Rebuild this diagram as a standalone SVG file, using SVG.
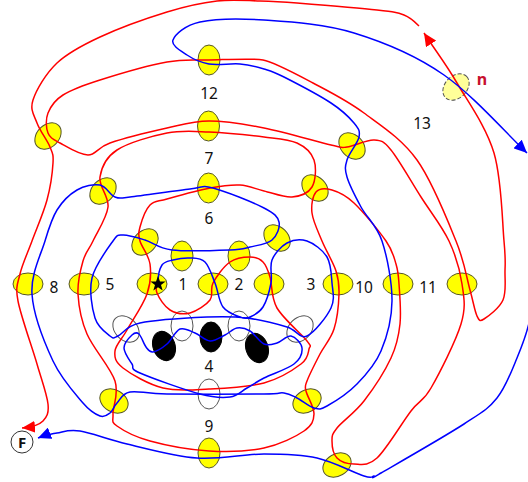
<svg xmlns="http://www.w3.org/2000/svg" width="528" height="482" viewBox="0 0 528 482">
<style>
.y{fill:#ffff00;stroke:#55552a;stroke-width:1}
.w{fill:#fff;stroke:#555;stroke-width:1}
.k{fill:#000;stroke:#000;stroke-width:1}
.p{fill:#ffff99;stroke:#555;stroke-width:1;stroke-dasharray:4 2}
.r{fill:none;stroke:#ff0000;stroke-width:1.5}
.b{fill:none;stroke:#0000ff;stroke-width:1.5}
text{font-family:"Noto Sans","Liberation Sans",sans-serif;font-size:15.500px;fill:#111;text-anchor:middle}
</style>
<defs>
<marker id="ar" markerUnits="userSpaceOnUse" markerWidth="14" markerHeight="12" refX="13" refY="6" orient="auto"><path d="M0 0L13 6L0 12Z" fill="#ff0000"/></marker>
<marker id="ab" markerUnits="userSpaceOnUse" markerWidth="14" markerHeight="12" refX="13" refY="6" orient="auto"><path d="M0 0L13 6L0 12Z" fill="#0000ff"/></marker>
</defs>
<rect width="528" height="482" fill="#fff"/>
<g id="n12"><ellipse class="y" cx="209" cy="60" rx="11" ry="15"/><text x="209" y="99">12</text></g>
<g id="n7"><ellipse class="y" cx="208.500" cy="126" rx="11" ry="15"/><text x="209" y="164">7</text></g>
<g id="n6"><ellipse class="y" cx="208.500" cy="188" rx="11" ry="15"/><text x="209" y="224">6</text></g>
<g id="n8"><ellipse class="y" cx="28" cy="284" rx="15" ry="11"/><text x="54" y="293">8</text></g>
<g id="n5"><ellipse class="y" cx="84" cy="284" rx="15" ry="11"/><text x="110" y="290">5</text></g>
<g id="n1"><ellipse class="y" cx="152" cy="284" rx="15" ry="11"/><text x="183" y="290">1</text></g>
<g id="n2"><ellipse class="y" cx="213" cy="284" rx="15" ry="11"/><text x="239" y="290">2</text></g>
<g id="n3"><ellipse class="y" cx="269" cy="284" rx="15" ry="11"/><text x="311" y="290">3</text></g>
<g id="n10"><ellipse class="y" cx="338" cy="284" rx="15" ry="11"/><text x="364" y="293">10</text></g>
<g id="n11"><ellipse class="y" cx="398" cy="284" rx="15" ry="11"/><text x="428" y="293">11</text></g>
<g id="n13"><ellipse class="y" cx="462" cy="284" rx="15" ry="11"/><text x="422" y="129">13</text></g>
<g id="n4"><ellipse class="y" cx="182" cy="256" rx="11" ry="15"/><ellipse class="y" cx="239" cy="256" rx="11" ry="15"/><text x="209" y="372">4</text></g>
<g id="n9"><ellipse class="y" cx="209" cy="453" rx="11" ry="15"/><text x="209" y="432">9</text></g>
<g id="e1"><ellipse class="y" cx="48" cy="136" rx="15" ry="11" transform="rotate(-45 48 136)"/></g>
<g id="e2"><ellipse class="y" cx="103" cy="191" rx="15" ry="11" transform="rotate(-45 103 191)"/></g>
<g id="e3"><ellipse class="y" cx="145" cy="242" rx="15" ry="11" transform="rotate(-45 145 242)"/></g>
<g id="e4"><ellipse class="y" cx="277" cy="238" rx="15" ry="11" transform="rotate(45 277 238)"/></g>
<g id="e5"><ellipse class="y" cx="315" cy="188" rx="15" ry="11" transform="rotate(45 315 188)"/></g>
<g id="e6"><ellipse class="y" cx="352" cy="146" rx="15" ry="11" transform="rotate(45 352 146)"/></g>
<g id="e7"><ellipse class="y" cx="114" cy="401" rx="15" ry="11" transform="rotate(30 114 401)"/></g>
<g id="e8"><ellipse class="y" cx="307" cy="401" rx="15" ry="11" transform="rotate(-30 307 401)"/></g>
<g id="e9"><ellipse class="y" cx="337" cy="465" rx="15" ry="11" transform="rotate(-30 337 465)"/></g>
<g id="w1"><ellipse class="w" cx="126" cy="329" rx="15" ry="11" transform="rotate(45 126 329)"/></g>
<g id="w2"><ellipse class="w" cx="182" cy="326" rx="11" ry="15"/></g>
<g id="w3"><ellipse class="w" cx="239" cy="326" rx="11" ry="15"/></g>
<g id="w4"><ellipse class="w" cx="300" cy="329" rx="15" ry="11" transform="rotate(-45 300 329)"/></g>
<g id="w5"><ellipse class="w" cx="209" cy="394" rx="11" ry="15"/></g>
<g id="k1"><ellipse class="k" cx="164" cy="346" rx="11" ry="15" transform="rotate(-20 164 346)"/></g>
<g id="k2"><ellipse class="k" cx="211" cy="337" rx="11" ry="15"/></g>
<g id="k3"><ellipse class="k" cx="257" cy="348" rx="11" ry="15" transform="rotate(-20 257 348)"/></g>
<g id="nn"><ellipse class="p" cx="456" cy="87" rx="15" ry="11" transform="rotate(-45 456 87)"/><text x="482" y="85" style="fill:#c8102e;font-weight:bold;font-size:16px">n</text></g>
<g id="connectors">
<path class="r" marker-end="url(#ar)" d="M158 283C158 283 155 288 157 293S164.500 306.700 170 310S183.300 314.700 190 313S206.200 305 210 300S209.700 289.300 213 283S223.800 266.300 230 262S244.500 257 250 257S259.700 258.700 263 262S267.700 269.300 270 277S270.800 297.300 277 308S301.700 334.200 307 341S310 345.200 309 349S308.500 358.300 301 364S279.300 378.800 264 383S225.800 388.200 209 389S177.300 391.500 163 388S131 374.200 123 368S114.300 357.300 115 351S121.700 339.500 127 330S143.200 305 147 294S151.200 272.800 150 264S141.700 247.200 140 241S138.300 233.300 140 227S145.500 209.700 150 205S157 201.800 167 199S197.800 190.300 210 188S231 184.500 240 185S255.300 189 264 191S284 197.700 292 197S308.300 193.200 312 187S316.500 167.300 314 160S305.300 146.800 297 143S278.700 138.800 264 137S225.200 132.700 209 132S182.300 130 167 133S128.200 142.700 117 150S101.500 167.500 100 177S109.200 196.300 108 207S97.200 232 93 241S85.500 252.200 83 261S77.300 281.800 78 294S80.800 319.500 87 334S110.700 367.700 115 381S112.700 406.500 113 414S110.800 421.500 117 426S134.700 436.800 150 441S190 449.800 209 451S248.200 451.300 264 448S295.700 436.700 304 431S313.700 420.700 314 414S307.200 396.500 306 391S304.700 387.200 307 381S315.500 362.700 320 354S330.800 339 334 329S338.700 303.700 339 294S338.800 279.800 336 271S326 250.700 322 241S313 221.200 312 213S312.700 195.800 316 192S325.700 188.200 332 190S345 194.500 354 203S379 230.800 386 241S393.800 256.800 396 264S398.300 274 399 284S401.300 311.700 400 324S397 345.200 391 358S373 389.300 364 401S342.300 421.300 337 428S332 436 332 441S333.300 454.200 337 458S347.300 464 354 464S367.500 466.800 377 458S402 422.700 411 411S422.700 402.500 431 388S455.800 341.300 461 324S464 297.800 462 284S455.800 255.500 449 241S430.700 212.200 421 197S398.800 159.500 391 150S381.300 140.500 374 140S354.200 146.200 347 147S344.800 148.200 331 145S284.300 132 264 128S225.200 121 209 121S183.500 124.300 167 128S123.200 138.500 110 143S96.300 155 88 155S66.700 146.700 60 143S50 138 48 133S45.500 119.300 48 113S54.300 100.500 63 95S82.700 85.500 100 80S148.800 65.300 167 62S193 60.300 209 60S252 58 263 60S296 74 313 83S346.700 100.200 364 113S401.700 138.700 417 160S447.200 219.300 456 241S466.500 277.500 470 290S474.700 311.200 477 316S479.700 321.700 484 319S499.500 308 503 300S504.800 280.800 505 271S505.800 260.700 504 241S501.800 179.300 494 153S468.700 103 457 83S435 50 424 33"/>
<path class="r" marker-end="url(#ar)" d="M419 26C416 23 411 17.700 404 15S394.800 12 377 10S315.800 4.500 297 3S273.300 1.300 260 1S232.500 -0.800 217 1S186.500 6 167 12S118.300 28.500 100 37S68.200 52.500 57 63S36.300 90 33 100S34.200 115.200 37 123S47.300 140.300 50 147S53.500 154.200 53 163S50.500 187 47 200S36.500 228.700 32 241S22.300 264 20 274S15.200 286 18 301S32 346.800 37 364S47 394.500 48 404S46.800 417 43 421S33 427 22 428"/>
<path class="b" marker-end="url(#ab)" d="M158 283C158 276 159.500 268.800 162 265S168.300 261.200 173 260S184.700 257.700 190 258S200.800 257.800 205 262S212 275.500 215 283S218.800 301.300 223 307S235.500 315.300 240 317S246.200 318.700 250 317S259.500 312.700 263 307S269.500 290.800 271 283S269.300 266.700 272 260S281.200 246.200 287 243S300.300 238.700 307 241S322.800 250 327 257S331.300 274.500 332 283S335.200 299.200 331 308S314.300 332.800 307 336S297 330 287 327S260.300 319.700 247 318S224.800 316.200 207 317S154.800 319.800 140 323S123 333.800 118 336S113.800 339 110 336S98 327.700 95 318S89 290.800 92 278S107.800 248.200 113 241S117.700 235.200 123 235S136.800 237.500 145 240S157.800 248.300 172 250S217 250.500 230 250S243 248.700 250 247S267.200 244.200 272 240S280.300 227.300 279 222S275 213.700 264 208S225.300 191.200 213 188S203.800 187.500 190 189S142.500 195.700 130 197S120 199 115 197S106.300 186.200 100 185S84.200 185.800 77 190S62.300 201.500 57 210S49.200 227 45 241S30.700 274 32 294S44.500 342.800 53 361S75.200 393.800 83 403S95.500 414.300 100 416S107.200 415.200 110 413S113.700 406.500 117 403S121.700 393.500 130 392S144.700 393.700 167 394S244.500 394.200 264 394S278.500 392.300 284 393S292 395.500 297 398S309 406.700 314 408S319.800 410 327 406S348 393.200 357 384S375.200 364.800 381 351S391.800 319.300 392 301S387.200 256.700 382 241S366.800 217.700 361 207S349.300 184.800 347 177S345 166.700 347 160S357.800 143.200 359 137S358.700 128.700 354 123S342.700 110.700 331 103S295.200 82.700 284 77S271.300 71.200 264 69S249.200 64.800 240 64S217.800 65.500 209 64S193 59 187 55S170.800 45.500 173 40S184.800 25.300 200 22S238.300 18.200 264 20S324 23.800 354 33S415 54.700 444 75S505 132 527 153"/>
<path class="b" d="M124 348C124 343.200 129.500 337.300 132 335S136.700 332 139 334S143.700 344 146 347S149.500 352.500 153 352S162.500 347.800 167 344S175.300 330.800 180 329S190 331 195 333S205 340.700 210 341S220.500 337.200 225 335S232.800 328.700 237 328S245.500 328.300 250 331S259.500 342 264 344S272.500 344.300 277 343S286.800 335.200 291 336S301.500 343.300 302 348S300.300 359 294 364S271.800 374 264 378S252.700 384.800 247 388S237.800 396 230 397S215 398 200 394S151.300 378 140 373S134.700 368.200 132 364S124 352.800 124 348Z"/>
<path class="b" marker-end="url(#ab)" d="M530 318C528 330 522.500 344.700 517 358S505.800 387 497 398S483.300 411.500 464 424S396 464.300 381 473S376.800 475.500 374 476S373.500 479 364 476S333.700 461.700 317 458S284 454 264 454S219.800 459.700 197 458S146.500 448.500 127 444S91.700 432.800 80 431S64 431.800 57 433S48 434 38 438"/>
</g>
<g id="star"><polygon points="158,276 160,281.500 165.600,281.500 161,285 162.700,290.500 158,287.300 153.300,290.500 155,285 150.400,281.500 156,281.500" fill="#000"/></g>
<g id="F"><circle cx="22" cy="442" r="11" fill="#fff" stroke="#333" stroke-width="1"/><text x="22" y="447.500" style="font-weight:bold;font-size:15px">F</text></g>
</svg>
